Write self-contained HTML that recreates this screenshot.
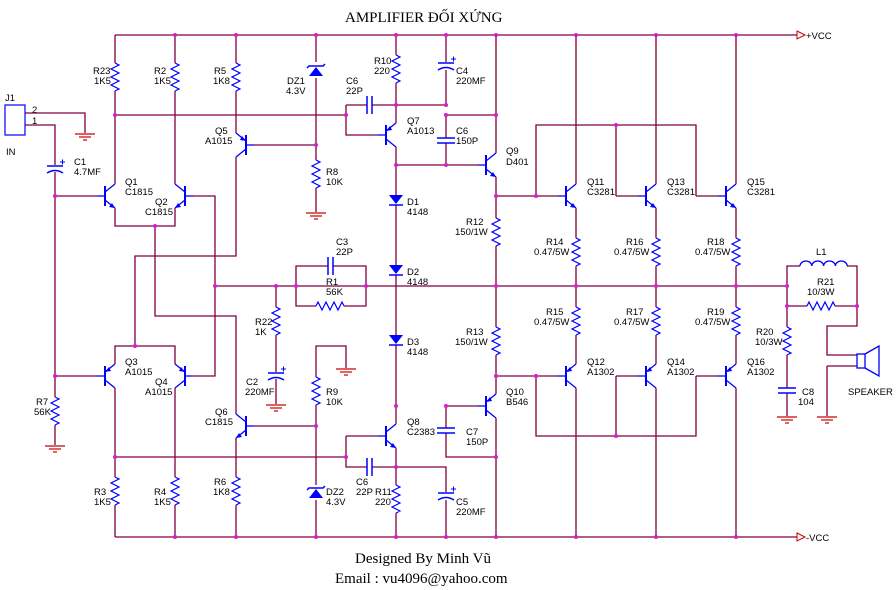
<!DOCTYPE html>
<html><head><meta charset="utf-8"><style>
html,body{margin:0;padding:0;background:#fff;}
svg{display:block;}
text{font-family:"Liberation Sans",sans-serif;font-size:9.5px;fill:#000;}
.t{font-family:"Liberation Serif",serif;font-size:15px;}
</style></head><body>
<svg width="896" height="590" viewBox="0 0 896 590" xmlns="http://www.w3.org/2000/svg">
<defs>
<path id="res" d="M0,0 l4,2 l-8,4 l8,4 l-8,4 l8,4 l-8,4 l8,4 l-4,2" fill="none" stroke="#0000ff" stroke-width="1.2"/>
<g id="npn" stroke="#0000ff" stroke-width="1.3" fill="#0000ff">
<line x1="-10" y1="-10" x2="-10" y2="10" stroke-width="2"/>
<line x1="-18" y1="0" x2="-10" y2="0"/>
<line x1="-10" y1="-4" x2="0" y2="-12"/>
<line x1="-10" y1="4" x2="0" y2="12"/>
<polygon points="0,12 -6,11 -3,7" stroke="none"/>
</g>
<g id="pnp" stroke="#0000ff" stroke-width="1.3" fill="#0000ff">
<line x1="-10" y1="-10" x2="-10" y2="10" stroke-width="2"/>
<line x1="-18" y1="0" x2="-10" y2="0"/>
<line x1="-10" y1="-4" x2="0" y2="-12"/>
<line x1="-10" y1="4" x2="0" y2="12"/>
<polygon points="-10,-4 -4,-5 -6,-9" stroke="none"/>
</g>
<g id="dio"><polygon points="-7,-5 7,-5 0,4" fill="#0000ff"/><line x1="-7" y1="5" x2="7" y2="5" stroke="#0000ff" stroke-width="1.5"/></g>
<g id="zen"><polygon points="-7,5 7,5 0,-4" fill="#0000ff"/><path d="M-9,-3 l2,-2 h14 l2,-2" fill="none" stroke="#0000ff" stroke-width="1.5"/></g>
<g id="pcap" stroke="#0000ff" stroke-width="1.5" fill="none"><line x1="-8" y1="0" x2="8" y2="0"/><path d="M-8,7 Q0,2 8,7"/><path d="M5,-4 h5 M7.5,-6.5 v5" stroke-width="1"/></g>
<g id="capv" stroke="#0000ff" stroke-width="1.5"><line x1="-9" y1="0" x2="9" y2="0"/><line x1="-9" y1="5" x2="9" y2="5"/></g>
<g id="caph" stroke="#0000ff" stroke-width="1.5"><line x1="0" y1="-9" x2="0" y2="9"/><line x1="5" y1="-9" x2="5" y2="9"/></g>
<g id="gnd" stroke="#cc0000" stroke-width="1.2"><line x1="-10" y1="0" x2="10" y2="0"/><line x1="-6" y1="3" x2="6" y2="3"/><line x1="-2" y1="6" x2="2" y2="6"/></g>
</defs>

<text class="t" x="345" y="22">AMPLIFIER ĐỐI XỨNG</text>
<text class="t" x="355" y="563">Designed By Minh Vũ</text>
<text class="t" x="335" y="583">Email : vu4096@yahoo.com</text>

<g fill="none" stroke="#800040" stroke-width="1.3">
<path d="M115,35 H797 M115,537 H797"/>
<path d="M115,35 V63 M115,91 V184 M115,208 V226 H175 V208 M175,35 V63 M175,91 V184"/>
<path d="M193,196 H215 V376 H193"/>
<path d="M155,226 V316 H236 V414"/>
<path d="M236,35 V63 M236,91 V133 M236,157 V256 H135 V346"/>
<path d="M254,145 H316 M254,426 H316"/>
<path d="M55,196 H97 M55,376 H97"/>
<path d="M115,364 V346 H175 V364 M115,388 V477 M115,505 V537 M175,388 V477 M175,505 V537"/>
<path d="M236,438 V477 M236,505 V537"/>
<path d="M316,35 V62 M316,78 V160 M316,188 V212"/>
<path d="M346,368 V346 H316 V377 M316,405 V485 M316,500 V537"/>
<path d="M396,35 V55 M396,83 V123 M396,147 V195 M396,205 V265 M396,275 V335 M396,345 V424 M396,448 V485 M396,513 V537"/>
<path d="M115,115 H346 M346,105 V135 H378 M346,105 H367 M372,105 H446 M446,35 V62 M446,70 V105"/>
<path d="M396,165 H446 V143 M446,138 V115 H496 M446,165 H478"/>
<path d="M496,35 V153 M496,177 V218 M496,246 V327 M496,355 V394 M496,418 V537"/>
<path d="M446,406 H478 M446,406 V428 M446,433 V457 H496"/>
<path d="M115,457 H346 M346,436 H378 M346,436 V467 H367 M372,467 H446 V492 M446,500 V537"/>
<path d="M576,35 V184 M576,208 V238 M576,266 V307 M576,335 V364 M576,388 V537"/>
<path d="M656,35 V184 M656,208 V238 M656,266 V307 M656,335 V364 M656,388 V537"/>
<path d="M736,35 V184 M736,208 V238 M736,266 V307 M736,335 V364 M736,388 V537"/>
<path d="M496,196 H558 M616,196 H638 M696,196 H718 M536,196 V125 H696 V196 M616,125 V196"/>
<path d="M496,376 H558 M616,376 H638 M696,376 H718 M536,376 V436 H696 V376 M616,436 V376"/>
<path d="M215,286 H787"/>
<path d="M296,286 V266 H328 M333,266 H366 V286 M296,286 V306 H316 M344,306 H366 V286"/>
<path d="M276,286 V307 M276,335 V372 M276,379 V404"/>
<path d="M25,113 H85 V133 M25,125 H55 V165 M55,172 V397 M55,425 V445"/>
<path d="M787,286 V266 H800 M847,266 H857 V326 H827 V355 H857 M827,366 H857 M827,366 V416"/>
<path d="M787,286 V306 H807 M835,306 H857 M787,306 V327 M787,355 V388 M787,393 V416"/>
</g>
<path d="M797,31 L805,35 L797,39 Z M797,533 L805,537 L797,541 Z" fill="none" stroke="#cc0000" stroke-width="1"/>
<text x="806" y="39">+VCC</text>
<text x="806" y="541">-VCC</text>

<use href="#res" x="115" y="63"/><use href="#res" x="175" y="63"/><use href="#res" x="236" y="63"/>
<use href="#res" x="396" y="55"/><use href="#res" x="316" y="160"/><use href="#res" x="496" y="218"/>
<use href="#res" x="576" y="238"/><use href="#res" x="656" y="238"/><use href="#res" x="736" y="238"/>
<use href="#res" x="576" y="307"/><use href="#res" x="656" y="307"/><use href="#res" x="736" y="307"/>
<use href="#res" x="496" y="327"/><use href="#res" x="276" y="307"/><use href="#res" x="316" y="377"/>
<use href="#res" x="55" y="397"/><use href="#res" x="115" y="477"/><use href="#res" x="175" y="477"/>
<use href="#res" x="236" y="477"/><use href="#res" x="396" y="485"/><use href="#res" x="787" y="327"/>
<use href="#res" transform="translate(316,306) rotate(-90)"/>
<use href="#res" transform="translate(807,306) rotate(-90)"/>

<use href="#npn" x="115" y="196"/>
<use href="#npn" transform="translate(175,196) scale(-1,1)"/>
<use href="#pnp" x="115" y="376"/>
<use href="#pnp" transform="translate(175,376) scale(-1,1)"/>
<use href="#pnp" transform="translate(236,145) scale(-1,1)"/>
<use href="#npn" transform="translate(236,426) scale(-1,1)"/>
<use href="#pnp" x="396" y="135"/>
<use href="#npn" x="396" y="436"/>
<use href="#npn" x="496" y="165"/>
<use href="#pnp" x="496" y="406"/>
<use href="#npn" x="576" y="196"/><use href="#npn" x="656" y="196"/><use href="#npn" x="736" y="196"/>
<use href="#pnp" x="576" y="376"/><use href="#pnp" x="656" y="376"/><use href="#pnp" x="736" y="376"/>

<use href="#dio" x="396" y="200"/><use href="#dio" x="396" y="270"/><use href="#dio" x="396" y="340"/>
<use href="#zen" x="316" y="71"/><use href="#zen" x="316" y="493"/>

<use href="#pcap" x="55" y="166"/><use href="#pcap" x="446" y="63"/><use href="#pcap" x="276" y="373"/><use href="#pcap" x="446" y="493"/>
<use href="#capv" x="446" y="138"/><use href="#capv" x="446" y="428"/><use href="#capv" x="787" y="388"/>
<use href="#caph" x="367" y="105"/><use href="#caph" x="367" y="467"/><use href="#caph" x="328" y="266"/>

<use href="#gnd" x="85" y="134"/><use href="#gnd" x="316" y="213"/><use href="#gnd" x="346" y="369"/>
<use href="#gnd" x="276" y="405"/><use href="#gnd" x="55" y="446"/><use href="#gnd" x="787" y="417"/><use href="#gnd" x="827" y="417"/>

<rect x="5" y="105" width="20" height="30" fill="none" stroke="#0000ff" stroke-width="1.2"/>
<path d="M800,266 a5.9,5 0 0 1 11.8,0 a5.9,5 0 0 1 11.8,0 a5.9,5 0 0 1 11.8,0 a5.9,5 0 0 1 11.8,0" fill="none" stroke="#0000ff" stroke-width="1.3"/>
<rect x="857" y="354" width="8" height="14" fill="none" stroke="#0000ff" stroke-width="1.3"/>
<path d="M865,354 L879,346 L879,376 L865,368" fill="none" stroke="#0000ff" stroke-width="1.3"/>

<g fill="#d020d0">
<circle cx="175" cy="35" r="2"/><circle cx="236" cy="35" r="2"/><circle cx="316" cy="35" r="2"/><circle cx="396" cy="35" r="2"/><circle cx="446" cy="35" r="2"/><circle cx="496" cy="35" r="2"/><circle cx="576" cy="35" r="2"/><circle cx="656" cy="35" r="2"/><circle cx="736" cy="35" r="2"/>
<circle cx="175" cy="537" r="2"/><circle cx="236" cy="537" r="2"/><circle cx="316" cy="537" r="2"/><circle cx="396" cy="537" r="2"/><circle cx="446" cy="537" r="2"/><circle cx="496" cy="537" r="2"/><circle cx="576" cy="537" r="2"/><circle cx="656" cy="537" r="2"/><circle cx="736" cy="537" r="2"/>
<circle cx="115" cy="115" r="2"/><circle cx="346" cy="115" r="2"/><circle cx="396" cy="105" r="2"/><circle cx="446" cy="105" r="2"/>
<circle cx="316" cy="145" r="2"/><circle cx="396" cy="165" r="2"/><circle cx="446" cy="165" r="2"/><circle cx="446" cy="115" r="2"/><circle cx="496" cy="115" r="2"/>
<circle cx="55" cy="196" r="2"/><circle cx="155" cy="226" r="2"/><circle cx="496" cy="196" r="2"/><circle cx="536" cy="196" r="2"/><circle cx="616" cy="125" r="2"/>
<circle cx="215" cy="286" r="2"/><circle cx="276" cy="286" r="2"/><circle cx="296" cy="286" r="2"/><circle cx="366" cy="286" r="2"/><circle cx="496" cy="286" r="2"/><circle cx="576" cy="286" r="2"/><circle cx="656" cy="286" r="2"/><circle cx="736" cy="286" r="2"/><circle cx="787" cy="286" r="2"/>
<circle cx="787" cy="306" r="2"/><circle cx="857" cy="306" r="2"/>
<circle cx="135" cy="346" r="2"/><circle cx="55" cy="376" r="2"/><circle cx="396" cy="406" r="2"/><circle cx="316" cy="426" r="2"/><circle cx="496" cy="376" r="2"/><circle cx="536" cy="376" r="2"/><circle cx="616" cy="436" r="2"/>
<circle cx="115" cy="457" r="2"/><circle cx="346" cy="457" r="2"/><circle cx="396" cy="467" r="2"/><circle cx="446" cy="406" r="2"/><circle cx="496" cy="457" r="2"/>
</g>

<text x="5" y="101">J1</text><text x="32" y="113">2</text><text x="32" y="124">1</text><text x="6" y="155">IN</text>
<text x="74" y="165">C1</text><text x="74" y="175">4.7MF</text>
<text x="93" y="74">R23</text><text x="94" y="84">1K5</text>
<text x="154" y="74">R2</text><text x="154" y="84">1K5</text>
<text x="214" y="74">R5</text><text x="213" y="84">1K8</text>
<text x="287" y="84">DZ1</text><text x="286" y="94">4.3V</text>
<text x="346" y="84">C6</text><text x="346" y="94">22P</text>
<text x="374" y="64">R10</text><text x="374" y="74">220</text>
<text x="456" y="74">C4</text><text x="456" y="84">220MF</text>
<text x="407" y="124">Q7</text><text x="407" y="134">A1013</text>
<text x="456" y="134">C6</text><text x="456" y="144">150P</text>
<text x="506" y="154">Q9</text><text x="506" y="165">D401</text>
<text x="215" y="134">Q5</text><text x="205" y="144">A1015</text>
<text x="326" y="175">R8</text><text x="326" y="185">10K</text>
<text x="125" y="185">Q1</text><text x="125" y="195">C1815</text>
<text x="155" y="205">Q2</text><text x="145" y="215">C1815</text>
<text x="407" y="205">D1</text><text x="407" y="215">4148</text>
<text x="336" y="245">C3</text><text x="336" y="255">22P</text>
<text x="326" y="285">R1</text><text x="326" y="295">56K</text>
<text x="407" y="275">D2</text><text x="407" y="285">4148</text>
<text x="466" y="225">R12</text><text x="455" y="235">150/1W</text>
<text x="546" y="245">R14</text><text x="534" y="255">0.47/5W</text>
<text x="626" y="245">R16</text><text x="614" y="255">0.47/5W</text>
<text x="707" y="245">R18</text><text x="695" y="255">0.47/5W</text>
<text x="587" y="185">Q11</text><text x="587" y="195">C3281</text>
<text x="667" y="185">Q13</text><text x="667" y="195">C3281</text>
<text x="747" y="185">Q15</text><text x="747" y="195">C3281</text>
<text x="816" y="255">L1</text>
<text x="817" y="285">R21</text><text x="807" y="295">10/3W</text>
<text x="255" y="325">R22</text><text x="255" y="335">1K</text>
<text x="246" y="385">C2</text><text x="245" y="395">220MF</text>
<text x="125" y="365">Q3</text><text x="125" y="375">A1015</text>
<text x="155" y="385">Q4</text><text x="145" y="395">A1015</text>
<text x="36" y="405">R7</text><text x="34" y="415">56K</text>
<text x="215" y="415">Q6</text><text x="205" y="425">C1815</text>
<text x="326" y="395">R9</text><text x="326" y="405">10K</text>
<text x="407" y="345">D3</text><text x="407" y="355">4148</text>
<text x="407" y="425">Q8</text><text x="407" y="435">C2383</text>
<text x="356" y="485">C6</text><text x="356" y="495">22P</text>
<text x="375" y="495">R11</text><text x="375" y="505">220</text>
<text x="326" y="495">DZ2</text><text x="326" y="505">4.3V</text>
<text x="94" y="495">R3</text><text x="94" y="505">1K5</text>
<text x="154" y="495">R4</text><text x="154" y="505">1K5</text>
<text x="214" y="485">R6</text><text x="213" y="495">1K8</text>
<text x="546" y="315">R15</text><text x="534" y="325">0.47/5W</text>
<text x="626" y="315">R17</text><text x="614" y="325">0.47/5W</text>
<text x="707" y="315">R19</text><text x="695" y="325">0.47/5W</text>
<text x="466" y="335">R13</text><text x="455" y="345">150/1W</text>
<text x="506" y="395">Q10</text><text x="506" y="405">B546</text>
<text x="466" y="435">C7</text><text x="466" y="445">150P</text>
<text x="456" y="505">C5</text><text x="456" y="515">220MF</text>
<text x="587" y="365">Q12</text><text x="587" y="375">A1302</text>
<text x="667" y="365">Q14</text><text x="667" y="375">A1302</text>
<text x="747" y="365">Q16</text><text x="747" y="375">A1302</text>
<text x="756" y="335">R20</text><text x="755" y="345">10/3W</text>
<text x="802" y="395">C8</text><text x="798" y="405">104</text>
<text x="848" y="395">SPEAKER</text>
</svg>
</body></html>
